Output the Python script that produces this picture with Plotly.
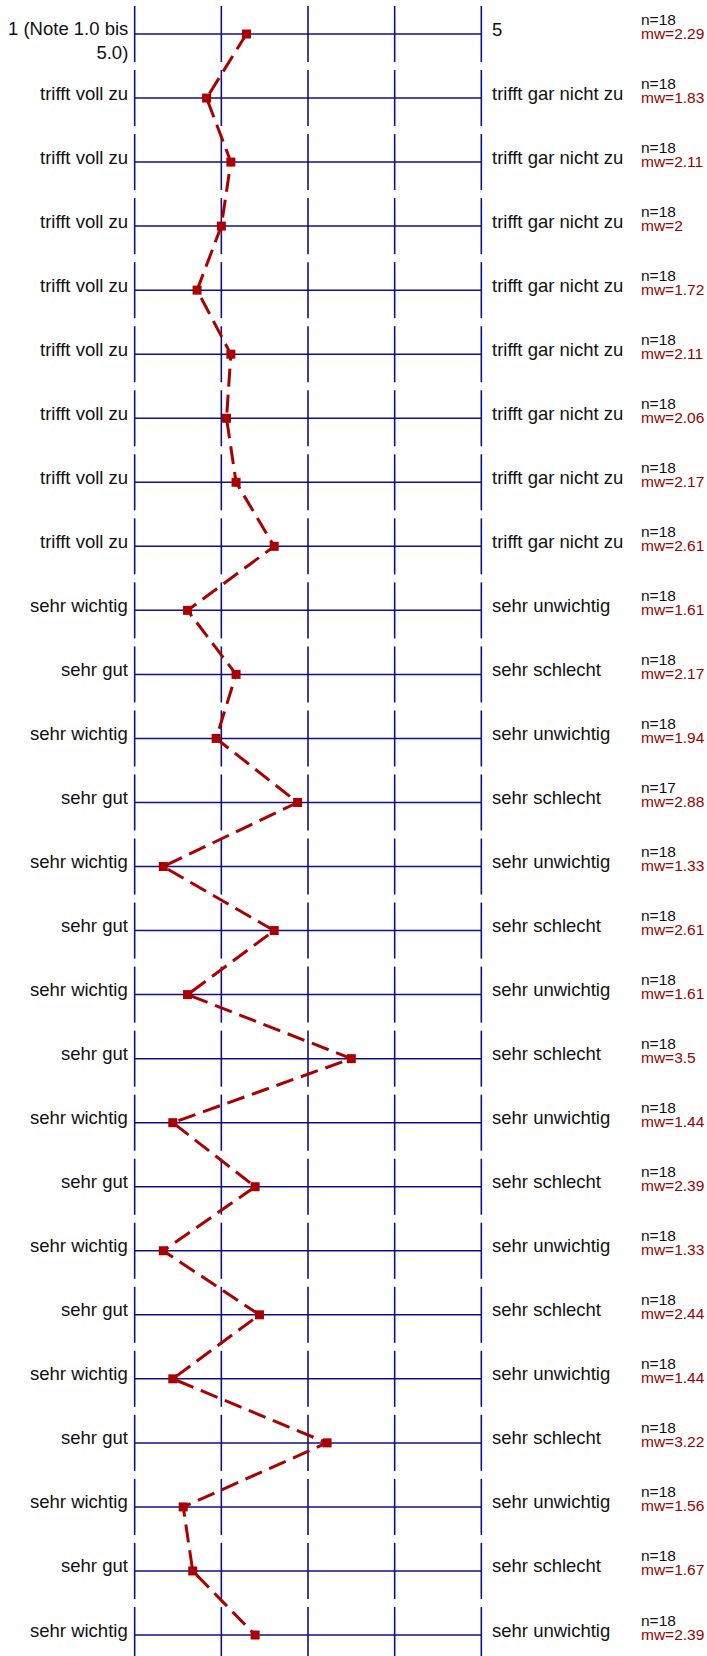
import plotly.graph_objects as go

left_labels = ["1 (Note 1.0 bis<br>5.0)"] + ["trifft voll zu"] * 8 + [
    "sehr wichtig", "sehr gut", "sehr wichtig", "sehr gut", "sehr wichtig", "sehr gut",
    "sehr wichtig", "sehr gut", "sehr wichtig", "sehr gut", "sehr wichtig", "sehr gut",
    "sehr wichtig", "sehr gut", "sehr wichtig", "sehr gut", "sehr wichtig"]
right_labels = ["5"] + ["trifft gar nicht zu"] * 8 + [
    "sehr unwichtig", "sehr schlecht", "sehr unwichtig", "sehr schlecht", "sehr unwichtig", "sehr schlecht",
    "sehr unwichtig", "sehr schlecht", "sehr unwichtig", "sehr schlecht", "sehr unwichtig", "sehr schlecht",
    "sehr unwichtig", "sehr schlecht", "sehr unwichtig", "sehr schlecht", "sehr unwichtig"]
n_values = [18, 18, 18, 18, 18, 18, 18, 18, 18, 18, 18, 18, 17, 18, 18, 18, 18, 18, 18, 18, 18, 18, 18, 18, 18, 18]
mw_values = [2.29, 1.83, 2.11, 2, 1.72, 2.11, 2.06, 2.17, 2.61, 1.61, 2.17, 1.94, 2.88, 1.33,
             2.61, 1.61, 3.5, 1.44, 2.39, 1.33, 2.44, 1.44, 3.22, 1.56, 1.67, 2.39]
scale_ticks = [1, 2, 3, 4, 5]

rows = list(range(len(mw_values)))
NAVY = "#101088"
RED = "#aa0000"
HALF = 0.4375

fig = go.Figure()

# horizontal lines per row
hx, hy = [], []
for r in rows:
    hx += [scale_ticks[0], scale_ticks[-1], None]
    hy += [r, r, None]
fig.add_trace(go.Scatter(x=hx, y=hy, mode="lines", line=dict(color=NAVY, width=1.5),
                         hoverinfo="skip", showlegend=False))
# vertical segments per row
vx, vy = [], []
for r in rows:
    for t in scale_ticks:
        vx += [t, t, None]
        vy += [r - HALF, r + HALF, None]
fig.add_trace(go.Scatter(x=vx, y=vy, mode="lines", line=dict(color=NAVY, width=1.6),
                         hoverinfo="skip", showlegend=False))
# profile line
fig.add_trace(go.Scatter(x=mw_values, y=rows, mode="lines+markers",
                         line=dict(color=RED, width=3, dash="18px,8px"),
                         marker=dict(symbol="square", size=9, color=RED),
                         hoverinfo="skip", showlegend=False))

ann = []
for r in rows:
    nl = left_labels[r].count("<br>") + 1
    ann.append(dict(x=1, y=r, xref="x", yref="y", text=left_labels[r], showarrow=False,
                    xanchor="right", yanchor="middle", align="right", xshift=-5,
                    yshift=5 - 11 * (nl - 1),
                    font=dict(family="Liberation Sans, Arial", size=18.5, color="#111111")))
    ann.append(dict(x=5, y=r, xref="x", yref="y", text=right_labels[r], showarrow=False,
                    xanchor="left", yanchor="middle", align="left", xshift=9, yshift=5,
                    font=dict(family="Liberation Sans, Arial", size=18.5, color="#111111")))
    ann.append(dict(x=1.409, y=r, xref="paper", yref="y", text=f"n={n_values[r]}", showarrow=False,
                    xanchor="left", yanchor="middle", yshift=15,
                    font=dict(family="Liberation Sans, Arial", size=15.5, color="#111111")))
    ann.append(dict(x=1.409, y=r, xref="paper", yref="y", text=f"mw={mw_values[r]:g}", showarrow=False,
                    xanchor="left", yanchor="middle", yshift=1,
                    font=dict(family="Liberation Sans, Arial", size=15.5, color="#990000")))

fig.update_layout(
    width=707, height=1656,
    margin=dict(l=126, r=217, t=0, b=0, pad=0, autoexpand=False),
    paper_bgcolor="white", plot_bgcolor="white",
    xaxis=dict(range=[0.9, 5.1], visible=False, fixedrange=True),
    yaxis=dict(range=[25.328, -0.531], visible=False, fixedrange=True),
    annotations=ann,
)

fig.write_html("out.html", config={"displayModeBar": False},
               post_script="document.body.style.margin='0';document.body.style.overflow='hidden';")
